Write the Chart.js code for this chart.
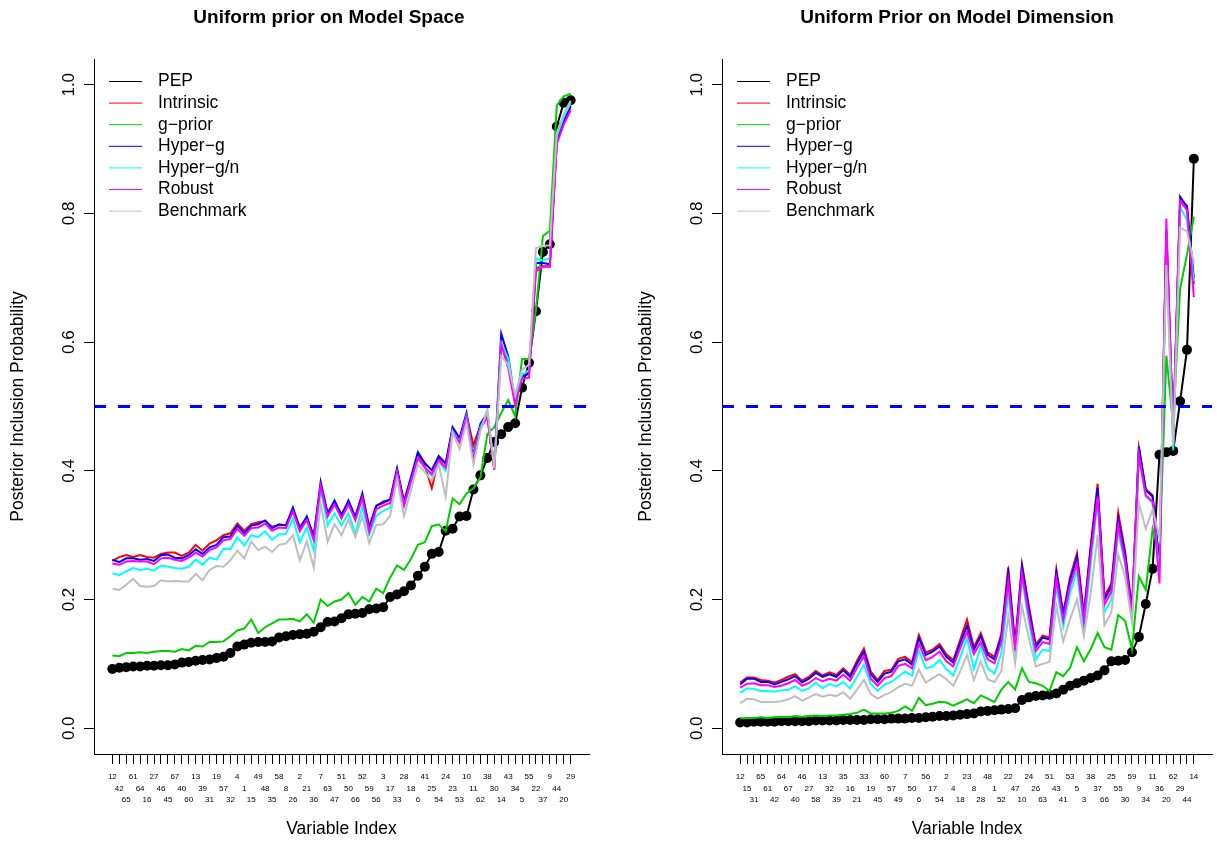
<!DOCTYPE html>
<html>
<head>
<meta charset="utf-8">
<title>Posterior Inclusion Probabilities</title>
<script src="https://cdn.jsdelivr.net/npm/chart.js@4.4.1/dist/chart.umd.min.js"></script>
<style>
  html, body { margin: 0; padding: 0; background: #fff; overflow: hidden; }
  #left { position: absolute; left: 0; top: 0; }
  #right { position: absolute; left: 628px; top: 0; }
</style>
</head>
<body>
<canvas id="left" width="628" height="844"></canvas>
<canvas id="right" width="589" height="844"></canvas>
<script>
// variable order (sorted by PEP) for each panel
var leftLabels = ["12","42","65","61","64","16","27","46","45","67","40","60","13","39","31","19","57","32","4","1","15","49","48","35","58","8","26","2","21","36","7","63","47","51","50","66","52","59","56","3","17","33","28","18","6","41","25","54","24","23","53","10","11","62","38","30","14","43","34","5","55","22","37","9","44","20","29"];
var rightLabels = ["12","15","31","65","61","42","64","67","40","46","27","58","13","32","39","35","16","21","33","19","45","60","57","49","7","50","6","56","17","54","2","4","18","23","8","28","48","1","52","22","47","10","24","26","63","51","43","41","53","5","3","38","37","66","25","55","30","59","9","34","11","36","20","62","29","44","14"];

var yTickValues = [0, 0.2, 0.4, 0.6, 0.8, 1.0];
var yTickLabels = ["0.0", "0.2", "0.4", "0.6", "0.8", "1.0"];
var threshold = 0.5;

var seriesNames = ["PEP", "Intrinsic", "g\u2212prior", "Hyper\u2212g", "Hyper\u2212g/n", "Robust", "Benchmark"];
var seriesColors = ["#000000", "#FF0000", "#00CD00", "#0000FF", "#00FFFF", "#FF00FF", "#BEBEBE"];

// ---- Uniform prior on model space ----
var leftPEP = [0.092,0.094,0.095,0.096,0.096,0.097,0.097,0.098,0.098,0.099,0.102,0.103,0.105,0.106,0.107,0.109,0.111,0.117,0.127,0.130,0.133,0.134,0.134,0.135,0.141,0.143,0.145,0.146,0.147,0.150,0.157,0.165,0.166,0.171,0.177,0.178,0.179,0.185,0.186,0.188,0.204,0.208,0.213,0.222,0.237,0.251,0.271,0.274,0.307,0.310,0.329,0.330,0.371,0.393,0.420,0.445,0.457,0.468,0.474,0.529,0.568,0.648,0.740,0.752,0.935,0.972,0.976];
var leftIntrinsic = [0.260,0.266,0.269,0.266,0.269,0.266,0.265,0.271,0.273,0.273,0.268,0.273,0.285,0.276,0.287,0.292,0.300,0.303,0.318,0.307,0.317,0.320,0.322,0.313,0.316,0.316,0.340,0.313,0.327,0.300,0.376,0.334,0.350,0.333,0.350,0.330,0.362,0.314,0.346,0.350,0.356,0.400,0.354,0.388,0.424,0.408,0.373,0.420,0.410,0.465,0.447,0.487,0.440,0.470,0.485,0.402,0.598,0.570,0.505,0.548,0.553,0.715,0.718,0.718,0.910,0.942,0.965];
var leftGprior = [0.113,0.112,0.117,0.117,0.118,0.117,0.119,0.120,0.120,0.119,0.123,0.121,0.128,0.127,0.134,0.134,0.135,0.143,0.152,0.155,0.169,0.148,0.157,0.163,0.169,0.169,0.170,0.166,0.177,0.164,0.200,0.190,0.197,0.200,0.210,0.192,0.204,0.197,0.217,0.210,0.234,0.253,0.246,0.263,0.285,0.289,0.314,0.317,0.306,0.357,0.348,0.365,0.373,0.390,0.457,0.468,0.490,0.510,0.485,0.574,0.574,0.650,0.765,0.773,0.968,0.982,0.986];
var leftHyperg = [0.262,0.258,0.264,0.264,0.262,0.263,0.260,0.269,0.270,0.265,0.264,0.269,0.278,0.271,0.281,0.285,0.297,0.298,0.315,0.303,0.315,0.317,0.323,0.311,0.317,0.315,0.343,0.310,0.329,0.297,0.383,0.334,0.354,0.331,0.354,0.328,0.365,0.310,0.345,0.352,0.355,0.404,0.351,0.390,0.429,0.412,0.401,0.423,0.412,0.468,0.451,0.490,0.423,0.473,0.490,0.407,0.613,0.578,0.507,0.546,0.551,0.723,0.723,0.721,0.913,0.943,0.968];
var leftHypergn = [0.241,0.238,0.244,0.249,0.246,0.248,0.245,0.253,0.251,0.249,0.248,0.251,0.262,0.254,0.265,0.262,0.279,0.278,0.297,0.284,0.300,0.297,0.306,0.293,0.301,0.302,0.326,0.289,0.312,0.276,0.372,0.315,0.334,0.315,0.334,0.303,0.344,0.301,0.330,0.338,0.343,0.396,0.345,0.382,0.420,0.405,0.392,0.415,0.400,0.462,0.445,0.485,0.420,0.468,0.488,0.406,0.598,0.575,0.510,0.550,0.556,0.730,0.727,0.730,0.920,0.950,0.972];
var leftRobust = [0.256,0.254,0.259,0.260,0.259,0.259,0.255,0.264,0.265,0.262,0.260,0.265,0.273,0.267,0.277,0.281,0.292,0.294,0.310,0.299,0.311,0.312,0.318,0.307,0.312,0.311,0.337,0.306,0.324,0.292,0.376,0.329,0.348,0.326,0.348,0.323,0.358,0.305,0.340,0.346,0.350,0.398,0.346,0.384,0.420,0.405,0.395,0.416,0.405,0.461,0.444,0.483,0.417,0.466,0.483,0.402,0.596,0.560,0.503,0.543,0.545,0.710,0.717,0.717,0.908,0.938,0.960];
var leftBenchmark = [0.217,0.215,0.223,0.232,0.221,0.220,0.221,0.230,0.228,0.229,0.228,0.228,0.240,0.230,0.246,0.252,0.251,0.261,0.276,0.264,0.290,0.277,0.282,0.274,0.285,0.287,0.300,0.261,0.290,0.250,0.349,0.290,0.317,0.300,0.324,0.297,0.329,0.288,0.316,0.317,0.330,0.388,0.330,0.370,0.410,0.398,0.385,0.410,0.360,0.460,0.434,0.475,0.410,0.462,0.495,0.404,0.578,0.565,0.518,0.557,0.565,0.746,0.750,0.750,0.925,0.955,0.975];

// ---- Uniform prior on model dimension ----
var rightPEP = [0.009,0.009,0.010,0.010,0.010,0.010,0.011,0.011,0.011,0.011,0.011,0.012,0.012,0.012,0.012,0.013,0.013,0.013,0.013,0.014,0.014,0.014,0.015,0.015,0.015,0.016,0.016,0.017,0.018,0.019,0.019,0.020,0.021,0.022,0.023,0.026,0.027,0.028,0.029,0.030,0.031,0.044,0.048,0.050,0.051,0.052,0.054,0.060,0.066,0.070,0.074,0.078,0.082,0.090,0.104,0.105,0.106,0.118,0.142,0.193,0.248,0.425,0.429,0.431,0.508,0.588,0.885];
var rightIntrinsic = [0.071,0.079,0.079,0.075,0.074,0.071,0.075,0.080,0.084,0.074,0.080,0.089,0.082,0.087,0.083,0.093,0.083,0.105,0.124,0.088,0.075,0.089,0.091,0.108,0.111,0.103,0.145,0.118,0.122,0.131,0.115,0.106,0.137,0.169,0.126,0.148,0.118,0.111,0.147,0.250,0.132,0.255,0.190,0.130,0.144,0.141,0.247,0.180,0.235,0.272,0.178,0.285,0.380,0.205,0.225,0.335,0.275,0.185,0.435,0.372,0.362,0.250,0.775,0.455,0.822,0.812,0.690];
var rightGprior = [0.015,0.016,0.016,0.017,0.016,0.017,0.018,0.017,0.019,0.018,0.019,0.020,0.019,0.020,0.020,0.021,0.022,0.024,0.029,0.023,0.023,0.023,0.024,0.027,0.034,0.027,0.047,0.036,0.038,0.041,0.040,0.035,0.040,0.045,0.039,0.051,0.046,0.041,0.060,0.072,0.060,0.093,0.072,0.070,0.066,0.058,0.087,0.081,0.094,0.126,0.104,0.123,0.148,0.126,0.122,0.176,0.167,0.123,0.236,0.215,0.310,0.270,0.579,0.470,0.683,0.736,0.795];
var rightHyperg = [0.068,0.077,0.077,0.072,0.072,0.068,0.072,0.076,0.081,0.071,0.077,0.086,0.080,0.084,0.080,0.090,0.080,0.101,0.119,0.084,0.072,0.085,0.088,0.104,0.107,0.099,0.140,0.114,0.119,0.127,0.111,0.102,0.132,0.159,0.122,0.143,0.114,0.107,0.142,0.240,0.127,0.251,0.185,0.126,0.141,0.138,0.242,0.176,0.230,0.266,0.173,0.280,0.373,0.200,0.220,0.325,0.270,0.182,0.438,0.370,0.360,0.255,0.770,0.460,0.826,0.810,0.700];
var rightHypergn = [0.055,0.062,0.061,0.058,0.058,0.057,0.059,0.060,0.065,0.058,0.062,0.071,0.062,0.069,0.065,0.072,0.062,0.080,0.099,0.069,0.058,0.068,0.072,0.080,0.088,0.082,0.121,0.093,0.096,0.106,0.092,0.082,0.110,0.140,0.092,0.127,0.093,0.085,0.117,0.210,0.120,0.232,0.165,0.107,0.122,0.120,0.220,0.158,0.210,0.245,0.152,0.255,0.355,0.180,0.200,0.305,0.255,0.170,0.420,0.360,0.350,0.240,0.750,0.432,0.810,0.790,0.695];
var rightRobust = [0.063,0.069,0.070,0.067,0.067,0.064,0.066,0.070,0.075,0.066,0.070,0.078,0.073,0.077,0.074,0.083,0.074,0.094,0.112,0.077,0.066,0.078,0.081,0.097,0.100,0.093,0.131,0.106,0.111,0.119,0.104,0.096,0.124,0.150,0.115,0.134,0.107,0.101,0.134,0.228,0.120,0.240,0.175,0.120,0.134,0.131,0.232,0.168,0.222,0.256,0.166,0.270,0.360,0.192,0.212,0.315,0.260,0.175,0.425,0.362,0.352,0.225,0.792,0.450,0.820,0.805,0.670];
var rightBenchmark = [0.039,0.046,0.045,0.041,0.041,0.041,0.042,0.045,0.050,0.043,0.048,0.053,0.049,0.052,0.050,0.056,0.046,0.060,0.075,0.053,0.046,0.052,0.056,0.064,0.069,0.066,0.091,0.071,0.078,0.084,0.076,0.066,0.088,0.114,0.075,0.104,0.076,0.072,0.089,0.174,0.101,0.190,0.140,0.096,0.100,0.103,0.190,0.135,0.170,0.200,0.143,0.210,0.300,0.160,0.180,0.270,0.235,0.165,0.350,0.310,0.340,0.296,0.720,0.440,0.778,0.772,0.724];

var FONT = '"Liberation Sans", Arial, Helvetica, sans-serif';

function toPoints(values) {
  return values.map(function (v, i) { return { x: i, y: v }; });
}

// draws the main title and the line legend in the top-left corner of the plot
var panelDecor = {
  id: 'panelDecor',
  afterDraw: function (chart, args, opts) {
    var ctx = chart.ctx, a = chart.chartArea;
    ctx.save();
    ctx.fillStyle = '#000';
    ctx.textBaseline = 'middle';
    ctx.font = 'bold 19px ' + FONT;
    ctx.textAlign = 'center';
    ctx.fillText(opts.title, a.left + 235, 18);
    ctx.font = '17.5px ' + FONT;
    ctx.textAlign = 'left';
    for (var k = 0; k < seriesNames.length; k++) {
      var y = a.top + 22.5 + k * 21.6;
      ctx.strokeStyle = seriesColors[k];
      ctx.lineWidth = 1;
      ctx.beginPath();
      ctx.moveTo(a.left + 15, y);
      ctx.lineTo(a.left + 48, y);
      ctx.stroke();
      ctx.fillText(seriesNames[k], a.left + 64, y);
    }
    ctx.restore();
  }
};

function makePanel(canvasId, title, labels, series, padRight) {
  var datasets = series.map(function (vals, k) {
    var isPep = k === 0;
    return {
      label: seriesNames[k],
      data: toPoints(vals),
      borderColor: seriesColors[k],
      backgroundColor: seriesColors[k],
      borderWidth: 2,
      pointRadius: isPep ? 5 : 0,
      pointBorderWidth: 0,
      pointBackgroundColor: seriesColors[k],
      tension: 0,
      order: 7 - k
    };
  });
  datasets.push({
    label: 'cutoff',
    data: [{ x: -2.64, y: threshold }, { x: labels.length + 1.64, y: threshold }],
    borderColor: '#0000FF',
    borderWidth: 3,
    borderDash: [12, 12],
    pointRadius: 0,
    order: 0
  });

  return new Chart(document.getElementById(canvasId), {
    type: 'line',
    data: { datasets: datasets },
    plugins: [panelDecor],
    options: {
      responsive: false,
      animation: false,
      events: [],
      layout: { padding: { top: 59, right: padRight, bottom: 0, left: 0 } },
      plugins: {
        legend: { display: false },
        tooltip: { enabled: false },
        panelDecor: { title: title }
      },
      scales: {
        x: {
          type: 'linear',
          min: -2.64,
          max: labels.length + 1.64,
          afterBuildTicks: function (scale) {
            scale.ticks = labels.map(function (_, i) { return { value: i }; });
          },
          afterFit: function (scale) { scale.height = 90; },
          ticks: {
            autoSkip: false,
            minRotation: 0,
            maxRotation: 0,
            padding: 7.5,
            color: '#000',
            font: { family: FONT, size: 8, lineHeight: '11.3px' },
            callback: function (value) {
              var lab = labels[value];
              if (lab === undefined) return '';
              var lines = [];
              for (var r = 0; r < value % 3; r++) lines.push('');
              lines.push(lab);
              return lines;
            }
          },
          grid: { drawOnChartArea: false, drawTicks: true, tickLength: 10, color: '#000' },
          border: { display: true, color: '#000', width: 1 },
          title: {
            display: true,
            text: 'Variable Index',
            color: '#000',
            font: { family: FONT, size: 17.5 },
            padding: { top: 0, bottom: 4 }
          }
        },
        y: {
          type: 'linear',
          min: -0.04,
          max: 1.04,
          afterBuildTicks: function (scale) {
            scale.ticks = yTickValues.map(function (v) { return { value: v }; });
          },
          afterFit: function (scale) { scale.width = 94; },
          ticks: {
            minRotation: 90,
            maxRotation: 90,
            crossAlign: 'center',
            padding: 3,
            color: '#000',
            font: { family: FONT, size: 17 },
            callback: function (value) {
              var k = yTickValues.indexOf(value);
              return k >= 0 ? yTickLabels[k] : '';
            }
          },
          grid: { drawOnChartArea: false, drawTicks: true, tickLength: 10, color: '#000' },
          border: { display: true, color: '#000', width: 1 },
          title: {
            display: true,
            text: 'Posterior Inclusion Probability',
            color: '#000',
            font: { family: FONT, size: 17.5 },
            padding: { top: 8, bottom: 0 }
          }
        }
      }
    }
  });
}

makePanel('left', 'Uniform prior on Model Space', leftLabels,
  [leftPEP, leftIntrinsic, leftGprior, leftHyperg, leftHypergn, leftRobust, leftBenchmark], 39);
makePanel('right', 'Uniform Prior on Model Dimension', rightLabels,
  [rightPEP, rightIntrinsic, rightGprior, rightHyperg, rightHypergn, rightRobust, rightBenchmark], 0);
</script>
</body>
</html>
